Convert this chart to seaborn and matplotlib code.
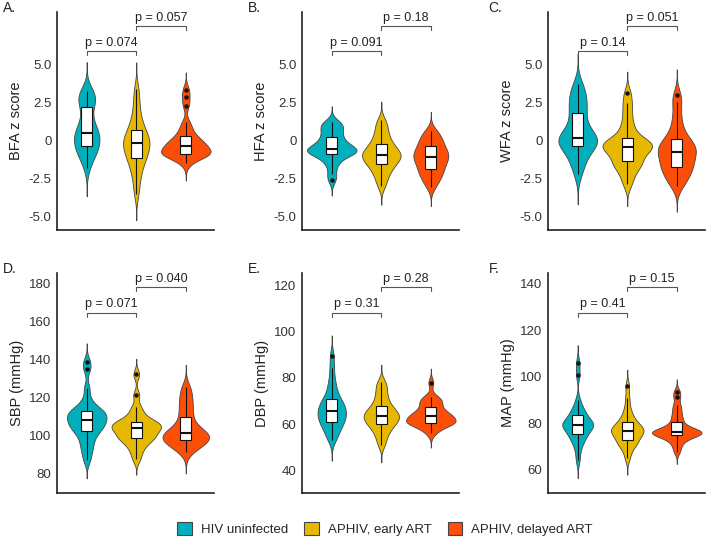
import numpy as np
import pandas as pd
import matplotlib
matplotlib.use("Agg")
import matplotlib.pyplot as plt
from matplotlib.patches import Patch
import seaborn as sns

sns.set_style("white")
plt.rcParams["font.family"] = ["Liberation Sans", "DejaVu Sans"]

groups = ["HIV uninfected", "APHIV, early ART", "APHIV, delayed ART"]
colors = ["#00AFBB", "#E7B800", "#FC4E07"]

bfa_uninf = [-1.79, -1.3, -1.0, -0.8, -0.65, -0.5, -0.39, -0.2, 0.0, 0.15, 0.25, 0.35, 0.48,
             0.65, 0.85, 1.05, 1.3, 1.7, 2.19, 2.4, 2.6, 2.8, 3.0, 3.15, 3.28]
bfa_early = [-3.5, -2.8, -2.3, -1.9, -1.6, -1.35, -1.14, -0.95, -0.8, -0.65, -0.5, -0.35, -0.18,
             -0.05, 0.05, 0.15, 0.3, 0.5, 0.72, 0.95, 1.2, 1.6, 2.1, 2.7, 3.4]
bfa_delayed = [-1.5, -1.2, -1.0, -0.95, -0.92, -0.9, -0.88, -0.8, -0.72, -0.65, -0.55, -0.45, -0.33,
               -0.25, -0.18, -0.1, 0.0, 0.15, 0.33, 0.55, 0.85, 1.2, 2.3, 2.84, 3.35]

hfa_uninf = [-2.6, -2.2, -1.7, -1.4, -1.15, -1.0, -0.87, -0.8, -0.75, -0.7, -0.65, -0.6, -0.54,
             -0.45, -0.35, -0.25, -0.1, 0.05, 0.22, 0.4, 0.6, 0.8, 0.95, 1.1, 1.24]
hfa_early = [-3.0, -2.6, -2.3, -2.05, -1.85, -1.7, -1.54, -1.4, -1.3, -1.2, -1.1, -1.02, -0.93,
             -0.85, -0.75, -0.65, -0.52, -0.4, -0.24, -0.05, 0.15, 0.4, 0.7, 1.0, 1.35]
hfa_delayed = [-3.04, -2.75, -2.5, -2.3, -2.15, -2.0, -1.87, -1.7, -1.55, -1.4, -1.3, -1.2, -1.09,
               -0.98, -0.88, -0.78, -0.68, -0.55, -0.39, -0.25, -0.1, 0.05, 0.25, 0.45, 0.63]

wfa_uninf = [-2.2, -1.7, -1.3, -1.0, -0.75, -0.5, -0.33, -0.2, -0.1, -0.02, 0.05, 0.12, 0.2,
             0.35, 0.55, 0.8, 1.1, 1.45, 1.84, 2.1, 2.4, 2.7, 3.0, 3.35, 3.72]
wfa_early = [-2.88, -2.4, -2.0, -1.75, -1.55, -1.42, -1.33, -1.05, -0.85, -0.7, -0.58, -0.48, -0.4,
             -0.32, -0.25, -0.17, -0.1, -0.02, 0.2, 0.5, 0.85, 1.3, 1.9, 2.45, 3.1]
wfa_delayed = [-3.0, -2.7, -2.45, -2.2, -2.0, -1.85, -1.73, -1.55, -1.35, -1.2, -1.05, -0.9, -0.73,
               -0.6, -0.5, -0.38, -0.25, -0.1, 0.07, 0.35, 0.7, 1.2, 1.8, 2.54, 3.0]

sbp_uninf = [87, 91, 94, 96.5, 99, 101, 102.5, 103.5, 104.5, 105.5, 106.5, 107.3, 108.2,
             109, 110, 111, 111.8, 112.4, 112.9, 114, 116, 119, 125, 135, 139]
sbp_early = [87.4, 91, 93.5, 95.5, 97, 98, 98.5, 99.5, 100.5, 101.5, 102.3, 103, 103.8,
             104.4, 105, 105.6, 106.2, 106.8, 107.3, 108.5, 110, 112.5, 115.2, 121.4, 132.3]
sbp_delayed = [91.4, 93, 94.5, 95.5, 96.3, 97, 97.6, 98.2, 98.8, 99.4, 100, 100.5, 101.1,
               101.8, 102.7, 103.8, 105.3, 107.5, 110, 112.5, 115, 117.5, 120, 123, 125.8]

dbp_uninf = [53.2, 55.0, 56.8, 58.2, 59.3, 60.3, 61.1, 62.0, 62.8, 63.5, 64.2, 65.0, 65.7,
             66.5, 67.3, 68.1, 68.9, 69.8, 70.7, 72.3, 74.2, 76.6, 79.5, 84.1, 89.4]
dbp_early = [51, 53.5, 55.5, 57, 58.2, 59.2, 60.1, 60.8, 61.5, 62.1, 62.6, 63.1, 63.7,
             64.3, 64.9, 65.5, 66.2, 67, 68, 69.3, 70.8, 72.5, 74.5, 76.5, 78.3]
dbp_delayed = [56.1, 57.8, 59.0, 59.8, 60.2, 60.5, 60.7, 61.0, 61.4, 61.8, 62.2, 62.7, 63.4,
               63.9, 64.3, 64.7, 65.2, 66.0, 67.3, 68.3, 69.3, 70.2, 71.0, 71.9, 77.9]

map_uninf = [64.3, 68.5, 71.0, 72.8, 74.0, 74.8, 75.3, 76.8, 77.8, 78.4, 78.8, 79.1, 79.4,
             79.8, 80.3, 80.8, 81.4, 82.4, 83.7, 84.6, 85.6, 87.0, 90.1, 100.9, 105.9]
map_early = [65, 68.0, 69.8, 71.0, 71.8, 72.4, 72.9, 74.2, 75.0, 75.6, 76.1, 76.5, 76.9,
             77.3, 77.8, 78.3, 78.9, 79.6, 80.5, 81.5, 82.8, 84.5, 87.0, 91, 96.1]
map_delayed = [67.9, 70.3, 72.0, 73.2, 74.0, 74.6, 75.1, 75.4, 75.7, 75.9, 76.1, 76.3, 76.5,
               76.8, 77.2, 77.7, 78.4, 79.4, 80.8, 82.3, 84.0, 86.0, 88, 91.3, 93.7]

panels = [
    ("A.", "BFA z score", [bfa_uninf, bfa_early, bfa_delayed], ["0.074", "0.057"]),
    ("B.", "HFA z score", [hfa_uninf, hfa_early, hfa_delayed], ["0.091", "0.18"]),
    ("C.", "WFA z score", [wfa_uninf, wfa_early, wfa_delayed], ["0.14", "0.051"]),
    ("D.", "SBP (mmHg)", [sbp_uninf, sbp_early, sbp_delayed], ["0.071", "0.040"]),
    ("E.", "DBP (mmHg)", [dbp_uninf, dbp_early, dbp_delayed], ["0.31", "0.28"]),
    ("F.", "MAP (mmHg)", [map_uninf, map_early, map_delayed], ["0.41", "0.15"]),
]

z_ticks = [-5, -2.5, 0, 2.5, 5]
z_labels = ["-5.0", "-2.5", "0", "2.5", "5.0"]
ylims = [(-5.87, 8.43), (-5.87, 8.43), (-5.87, 8.43), (69.6, 185.8), (30.4, 125.2), (50.1, 144.7)]
yticks = [z_ticks, z_ticks, z_ticks, [80, 100, 120, 140, 160, 180], [40, 60, 80, 100, 120],
          [60, 80, 100, 120, 140]]


def nrd0(kde):
    x = kde.dataset.ravel()
    sd = x.std(ddof=1)
    iqr = np.subtract(*np.percentile(x, [75, 25]))
    return 0.9 * min(sd, iqr / 1.34) * len(x) ** -0.2 / sd


fig = plt.figure(figsize=(7.08, 5.38), dpi=100)
lefts = [0.0805, 0.4266, 0.774]
letter_x = [0.004, 0.350, 0.690]

for i, (letter, ylabel, vals, pvals) in enumerate(panels):
    row, col = divmod(i, 3)
    bottom, height = (0.5725, 0.405) if row == 0 else (0.0836, 0.409)
    ax = fig.add_axes([lefts[col], bottom, 0.2218, height])
    df = pd.DataFrame({
        "group": np.repeat(groups, [len(v) for v in vals]),
        "value": np.concatenate(vals),
    })
    sns.violinplot(data=df, x="group", y="value", hue="group", order=groups, hue_order=groups,
                   palette=colors, saturation=1, inner=None, cut=3.3, bw_method=nrd0, bw_adjust=0.8,
                   density_norm="area", common_norm=True,
                   width=1.0, linewidth=0.6, linecolor="#444444", legend=False, ax=ax)
    sns.boxplot(data=df, x="group", y="value", order=groups, color="white", saturation=1,
                width=0.22, linewidth=0.8, linecolor="#111111", showcaps=False,
                medianprops=dict(linewidth=1.5, color="#111111"),
                flierprops=dict(marker="o", markersize=2.2, markerfacecolor="#111111",
                                markeredgecolor="#111111"), ax=ax)

    ax.set_xlim(-0.6, 2.57)
    ax.set_ylim(*ylims[i])
    ax.set_yticks(yticks[i])
    if row == 0:
        ax.set_yticklabels(z_labels)
    ax.set_xticks([0, 1, 2])
    ax.set_xticklabels([])
    ax.set_xlabel("")
    ax.set_ylabel(ylabel, fontsize=10.5, color="#222222", labelpad=4)
    ax.tick_params(axis="y", labelsize=9.5, labelcolor="#333333", length=2, width=0.8, pad=2)
    ax.tick_params(axis="x", length=3, width=0.8, color="#333333")
    for side in ["top", "right"]:
        ax.spines[side].set_visible(False)
    for side in ["left", "bottom"]:
        ax.spines[side].set_color("#222222")
        ax.spines[side].set_linewidth(1.2)

    # p-value brackets
    tr = ax.get_xaxis_transform()
    for (x1, x2), yb, p in zip([(0, 1), (1, 2)], [0.82, 0.935], pvals):
        ax.plot([x1, x1, x2, x2], [yb - 0.018, yb, yb, yb - 0.018], color="#555555",
                lw=0.8, transform=tr, clip_on=False)
        ax.text((x1 + x2) / 2, yb + 0.012, "p = " + p, transform=tr, ha="center", va="bottom",
                fontsize=9, color="#222222")

    fig.text(letter_x[col], (bottom + height) + 0.02, letter, fontsize=10, va="top", ha="left",
             color="#222222")

handles = [Patch(facecolor=c, edgecolor="#444444", linewidth=0.8) for c in colors]
fig.legend(handles, groups, loc="center", bbox_to_anchor=(0.544, 0.017), ncol=3, frameon=False,
           fontsize=9.5, handlelength=1.1, handleheight=1.1, columnspacing=1.2, handletextpad=0.7)

fig.savefig("out.png", dpi=100)
